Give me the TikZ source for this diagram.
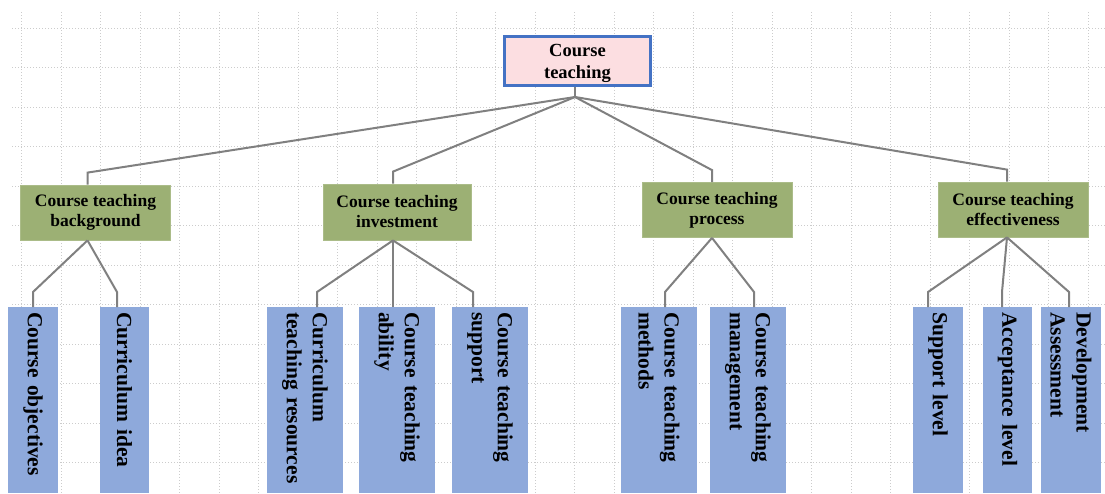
\documentclass[tikz,border=0pt]{standalone}
\usepackage{fontspec}
\setmainfont{Liberation Serif}
\usepackage{xcolor}
\definecolor{rootfill}{RGB}{252,222,225}
\definecolor{rootline}{RGB}{68,114,196}
\definecolor{groupfill}{RGB}{156,176,116}
\definecolor{leaffill}{RGB}{142,169,219}
\definecolor{linkgray}{RGB}{128,128,128}

\begin{document}
\begin{tikzpicture}[x=1pt,y=-1pt,
  grid/.style={gray!40,line width=1pt,dash pattern=on 1.4pt off 1.6pt},
  link/.style={linkgray,line width=2pt},
  rootbox/.style={draw=rootline,line width=3pt,fill=rootfill,minimum width=146,minimum height=49,
    inner sep=0pt,align=center,font=\fontsize{18.5}{21.5}\selectfont\bfseries},
  groupbox/.style={draw=groupfill!85!white,line width=0.8pt,fill=groupfill,minimum width=150,minimum height=55,
    inner sep=0pt,align=center,font=\fontsize{17.5}{20}\selectfont\bfseries},
  leafbox/.style={fill=leaffill,rotate=-90,anchor=west,inner xsep=5pt,inner ysep=0pt,text width=176,
    align=left,font=\fontsize{21.5}{26}\selectfont\bfseries}]
\useasboundingbox (0,0) rectangle (1105,493);
\fill[white] (0,0) rectangle (1105,493);
% griglia di sfondo
\foreach \k in {0,...,11}{
  \draw[grid] (12,{28.3+39.5*\k}) -- (1105,{28.3+39.5*\k});
}
\foreach \k in {0,...,27}{
  \draw[grid] ({21.7+39.5*\k},12) -- ({21.7+39.5*\k},493);
}
% radice
\node[rootbox,text height=39pt] (root) at (577.5,61) {Course\\teaching};
\coordinate (hub) at (575,97);
% secondo livello
\node[groupbox] (bg) at (95.5,212.5) {Course teaching\\background};
\node[groupbox,minimum width=148,minimum height=56] (inv) at (397,212) {Course teaching\\investment};
\node[groupbox] (proc) at (717,210) {Course teaching\\process};
\node[groupbox] (eff) at (1013,209.5) {Course teaching\\effectiveness};
% foglie (testo verticale)
\node[leafbox,minimum height=50] (a1) at (33,307) {Course objectives};
\node[leafbox,minimum height=49] (a2) at (124.5,307) {Curriculum idea};
\node[leafbox,minimum height=76] (b1) at (305,307) {Curriculum\\teaching resources};
\node[leafbox,minimum height=76] (b2) at (397,307) {Course teaching\\ability};
\node[leafbox,minimum height=76] (b3) at (490,307) {Course teaching\\support};
\node[leafbox,minimum height=76] (c1) at (659,307) {Course teaching\\methods};
\node[leafbox,minimum height=76] (c2) at (748,307) {Course teaching\\management};
\node[leafbox,minimum height=50] (d1) at (938,307) {Support level};
\node[leafbox,minimum height=49] (d2) at (1007.5,307) {Acceptance level};
\node[leafbox,minimum height=60] (d3) at (1071,307) {Development\\Assessment};
% collegamenti
\draw[link] (root.south -| hub) -- (hub);
\foreach \grp/\gdx in {bg/-8, inv/-4, proc/-5, eff/-6}{
  \draw[link] (hub) -- ([xshift=\gdx,yshift=12]\grp.north) -- ([xshift=\gdx]\grp.north);
}
\foreach \grp/\gdx/\kid/\kdx in {
  bg/-8/a1/0, bg/-8/a2/-7.5,
  inv/-4/b1/12, inv/-4/b2/-4, inv/-4/b3/-17,
  proc/-5/c1/6, proc/-5/c2/6,
  eff/-6/d1/-10, eff/-6/d2/-5.5, eff/-6/d3/-2
}{
  \draw[link] ([xshift=\gdx]\grp.south) -- ([xshift=\kdx,yshift=15]\kid.west) -- ([xshift=\kdx]\kid.west);
}
\end{tikzpicture}
\end{document}
